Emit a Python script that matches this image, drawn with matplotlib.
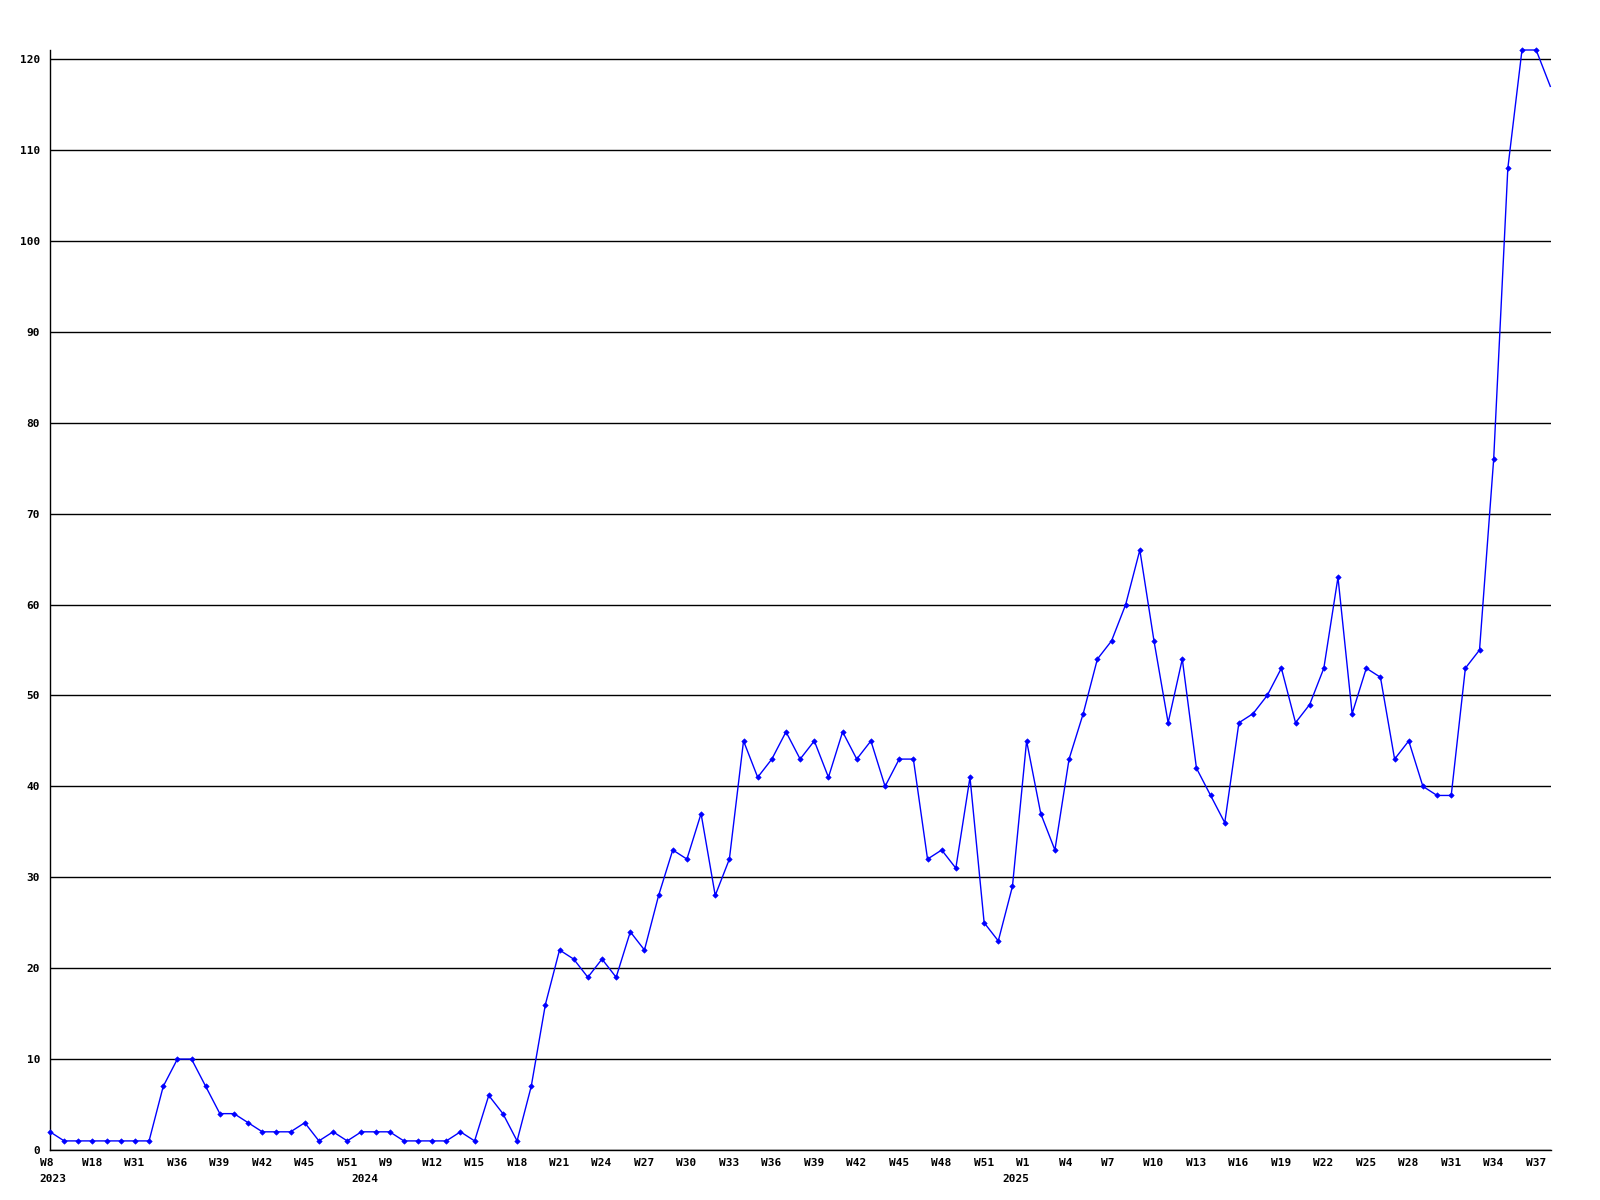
import matplotlib
matplotlib.use("Agg")
import matplotlib.pyplot as plt
import matplotlib.transforms as mtransforms

# weekly values, one per point
values = [2, 1, 1, 1, 1, 1, 1, 1, 7, 10,
          10, 7, 4, 4, 3, 2, 2, 2, 3, 1,
          2, 1, 2, 2, 2, 1, 1, 1, 1, 2,
          1, 6, 4, 1, 7, 16, 22, 21, 19, 21,
          19, 24, 22, 28, 33, 32, 37, 28, 32, 45,
          41, 43, 46, 43, 45, 41, 46, 43, 45, 40,
          43, 43, 32, 33, 31, 41, 25, 23, 29, 45,
          37, 33, 43, 48, 54, 56, 60, 66, 56, 47,
          54, 42, 39, 36, 47, 48, 50, 53, 47, 49,
          53, 63, 48, 53, 52, 43, 45, 40, 39, 39,
          53, 55, 76, 108, 121, 121, 117]

# week labels, one every 3 points
week_labels = ["W8", "W18", "W31", "W36", "W39", "W42", "W45", "W51", "W9",
               "W12", "W15", "W18", "W21", "W24", "W27", "W30", "W33", "W36",
               "W39", "W42", "W45", "W48", "W51", "W1", "W4", "W7", "W10",
               "W13", "W16", "W19", "W22", "W25", "W28", "W31", "W34", "W37"]
year_labels = ["2023", "2024", "2025"]
year_pos = [0, 22, 68]

x = list(range(len(values)))

fig = plt.figure(figsize=(16, 12), dpi=100)
ax = fig.add_axes([50 / 1600, 50 / 1200, 1501 / 1600, 1100 / 1200])

# last point sits on the right edge, no marker drawn there
ax.plot(x, values, color="#0000ff", lw=1.0, marker="D", markersize=2.8,
        markeredgewidth=0.4, markevery=list(range(len(values) - 1)),
        clip_on=False, zorder=3)

ax.set_xlim(0, 106.05)
ax.set_ylim(0, 121)

ax.set_yticks(range(0, 121, 10))
ax.yaxis.grid(True, color="black", lw=1.0)
ax.set_axisbelow(True)
ax.tick_params(axis="y", length=0, pad=7.2, labelsize=8)
for lab in ax.get_yticklabels():
    lab.set_fontfamily("DejaVu Sans Mono")
    lab.set_fontweight("bold")

ax.set_xticks([])
for s in ["top", "right"]:
    ax.spines[s].set_visible(False)
ax.spines["left"].set_linewidth(1.0)
ax.spines["bottom"].set_linewidth(1.0)

base = mtransforms.blended_transform_factory(ax.transData, ax.transAxes)
off_w = mtransforms.ScaledTranslation(-10.5 / 100, -8.5 / 100, fig.dpi_scale_trans)
off_y = mtransforms.ScaledTranslation(-10.5 / 100, -23.5 / 100, fig.dpi_scale_trans)

for i, lab in enumerate(week_labels):
    ax.text(i * 3, 0, lab, transform=base + off_w, ha="left", va="top",
            fontsize=8, fontfamily="DejaVu Sans Mono", fontweight="bold")

for p, lab in zip(year_pos, year_labels):
    ax.text(p, 0, lab, transform=base + off_y, ha="left", va="top",
            fontsize=8, fontfamily="DejaVu Sans Mono", fontweight="bold")

fig.savefig("out.png", dpi=100)
